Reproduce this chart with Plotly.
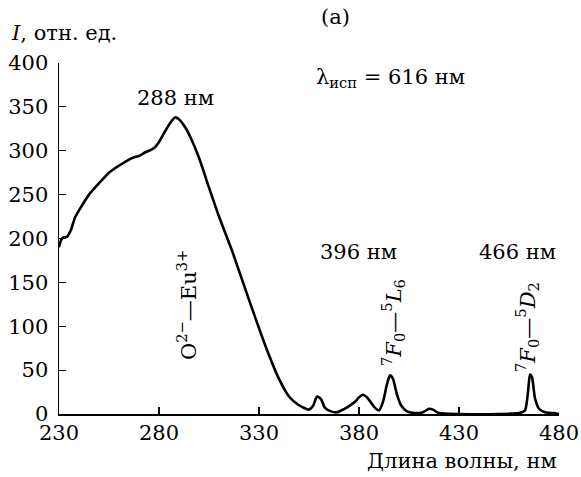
import plotly.graph_objects as go

wavelength = [230, 231, 232, 234, 236, 238, 240, 245, 250, 255, 258, 260, 265, 268, 270, 273, 276, 278,
              280, 283, 286, 288, 290, 293, 296, 300, 305, 310, 317, 325, 334, 340, 345, 350, 355,
              357, 359, 361, 363, 366, 369, 372, 375, 378, 380, 382, 384, 386, 388, 390, 392, 394,
              395.5, 397, 399, 401, 404, 408, 412, 415, 417, 420, 430, 450, 460, 463, 464.5, 465.5,
              466.5, 468, 470, 473, 477, 480]
intensity = [190, 198, 201, 202, 210, 224, 232, 250, 263, 275, 280, 283, 290, 293, 294, 298, 301, 304,
             310, 322, 333, 338, 336, 327, 314, 292, 258, 225, 183, 130, 73, 40, 20, 10, 5,
             9, 20, 17, 7, 3, 2, 5, 9, 14, 19, 22, 19, 13, 7, 4, 14, 34,
             44, 40, 22, 10, 3, 1, 2, 6, 5, 1, 0, 0, 1, 4, 25, 45,
             42, 18, 6, 2, 1, 0]

x_ticks = [230, 280, 330, 380, 430, 480]
y_ticks = [0, 50, 100, 150, 200, 250, 300, 350, 400]

FONT = "DejaVu Serif"
FS = 21

W, H = 581, 477
L, R, T, B = 59, 559, 63, 414

fig = go.Figure()
fig.add_trace(go.Scatter(x=wavelength, y=intensity, mode="lines",
                         line=dict(color="black", width=2.6, shape="spline", smoothing=0.6),
                         showlegend=False, hoverinfo="skip"))

fig.update_layout(
    width=W, height=H,
    margin=dict(l=L, r=W - R, t=T, b=H - B, autoexpand=False),
    paper_bgcolor="white", plot_bgcolor="white",
    font=dict(family=FONT, size=FS, color="black"),
    xaxis=dict(range=[230, 480], tickvals=x_ticks, ticks="inside", ticklen=7, tickwidth=1.2,
               tickcolor="black", showline=True, linecolor="black", linewidth=1.5, automargin=False,
               ticklabelstandoff=-1,
               showgrid=False, zeroline=False, tickfont=dict(family=FONT, size=FS)),
    yaxis=dict(range=[0, 400], tickvals=y_ticks, ticks="inside", ticklen=7, tickwidth=1.2,
               tickcolor="black", showline=True, linecolor="black", linewidth=1.5, automargin=False,
               ticklabelstandoff=5,
               showgrid=False, zeroline=False, tickfont=dict(family=FONT, size=FS)),
)

def px(xp): return (xp - L) / (R - L)
def py(yp): return (B - yp) / (B - T)

def ann(text, xp, yp, xanchor="center", angle=0):
    fig.add_annotation(text=text, x=px(xp), y=py(yp), xref="paper", yref="paper",
                       xanchor=xanchor, yanchor="middle", textangle=angle, showarrow=False,
                       font=dict(family=FONT, size=FS, color="black"))

ann("<i>I</i>, отн. ед.", 9, 33, xanchor="left")
ann("Длина волны, нм", 559, 461, xanchor="right")
ann("(a)", 335, 17)
ann("λ<sub>исп</sub> = 616 нм", 314, 78, xanchor="left")
ann("288 нм", 175, 98)
ann("396 нм", 358, 252)
ann("466 нм", 517, 252)
ann("O<sup>2−</sup>—Eu<sup>3+</sup>", 187, 305, angle=-90)
ann("<sup>7</sup><i>F</i><sub>0</sub>—<sup>5</sup><i>L</i><sub>6</sub>", 393, 323, angle=-90)
ann("<sup>7</sup><i>F</i><sub>0</sub>—<sup>5</sup><i>D</i><sub>2</sub>", 527, 327, angle=-90)

fig.write_html("out.html", config={"displayModeBar": False, "staticPlot": True},
               post_script="document.body.style.margin='0';document.body.style.overflow='hidden';")
